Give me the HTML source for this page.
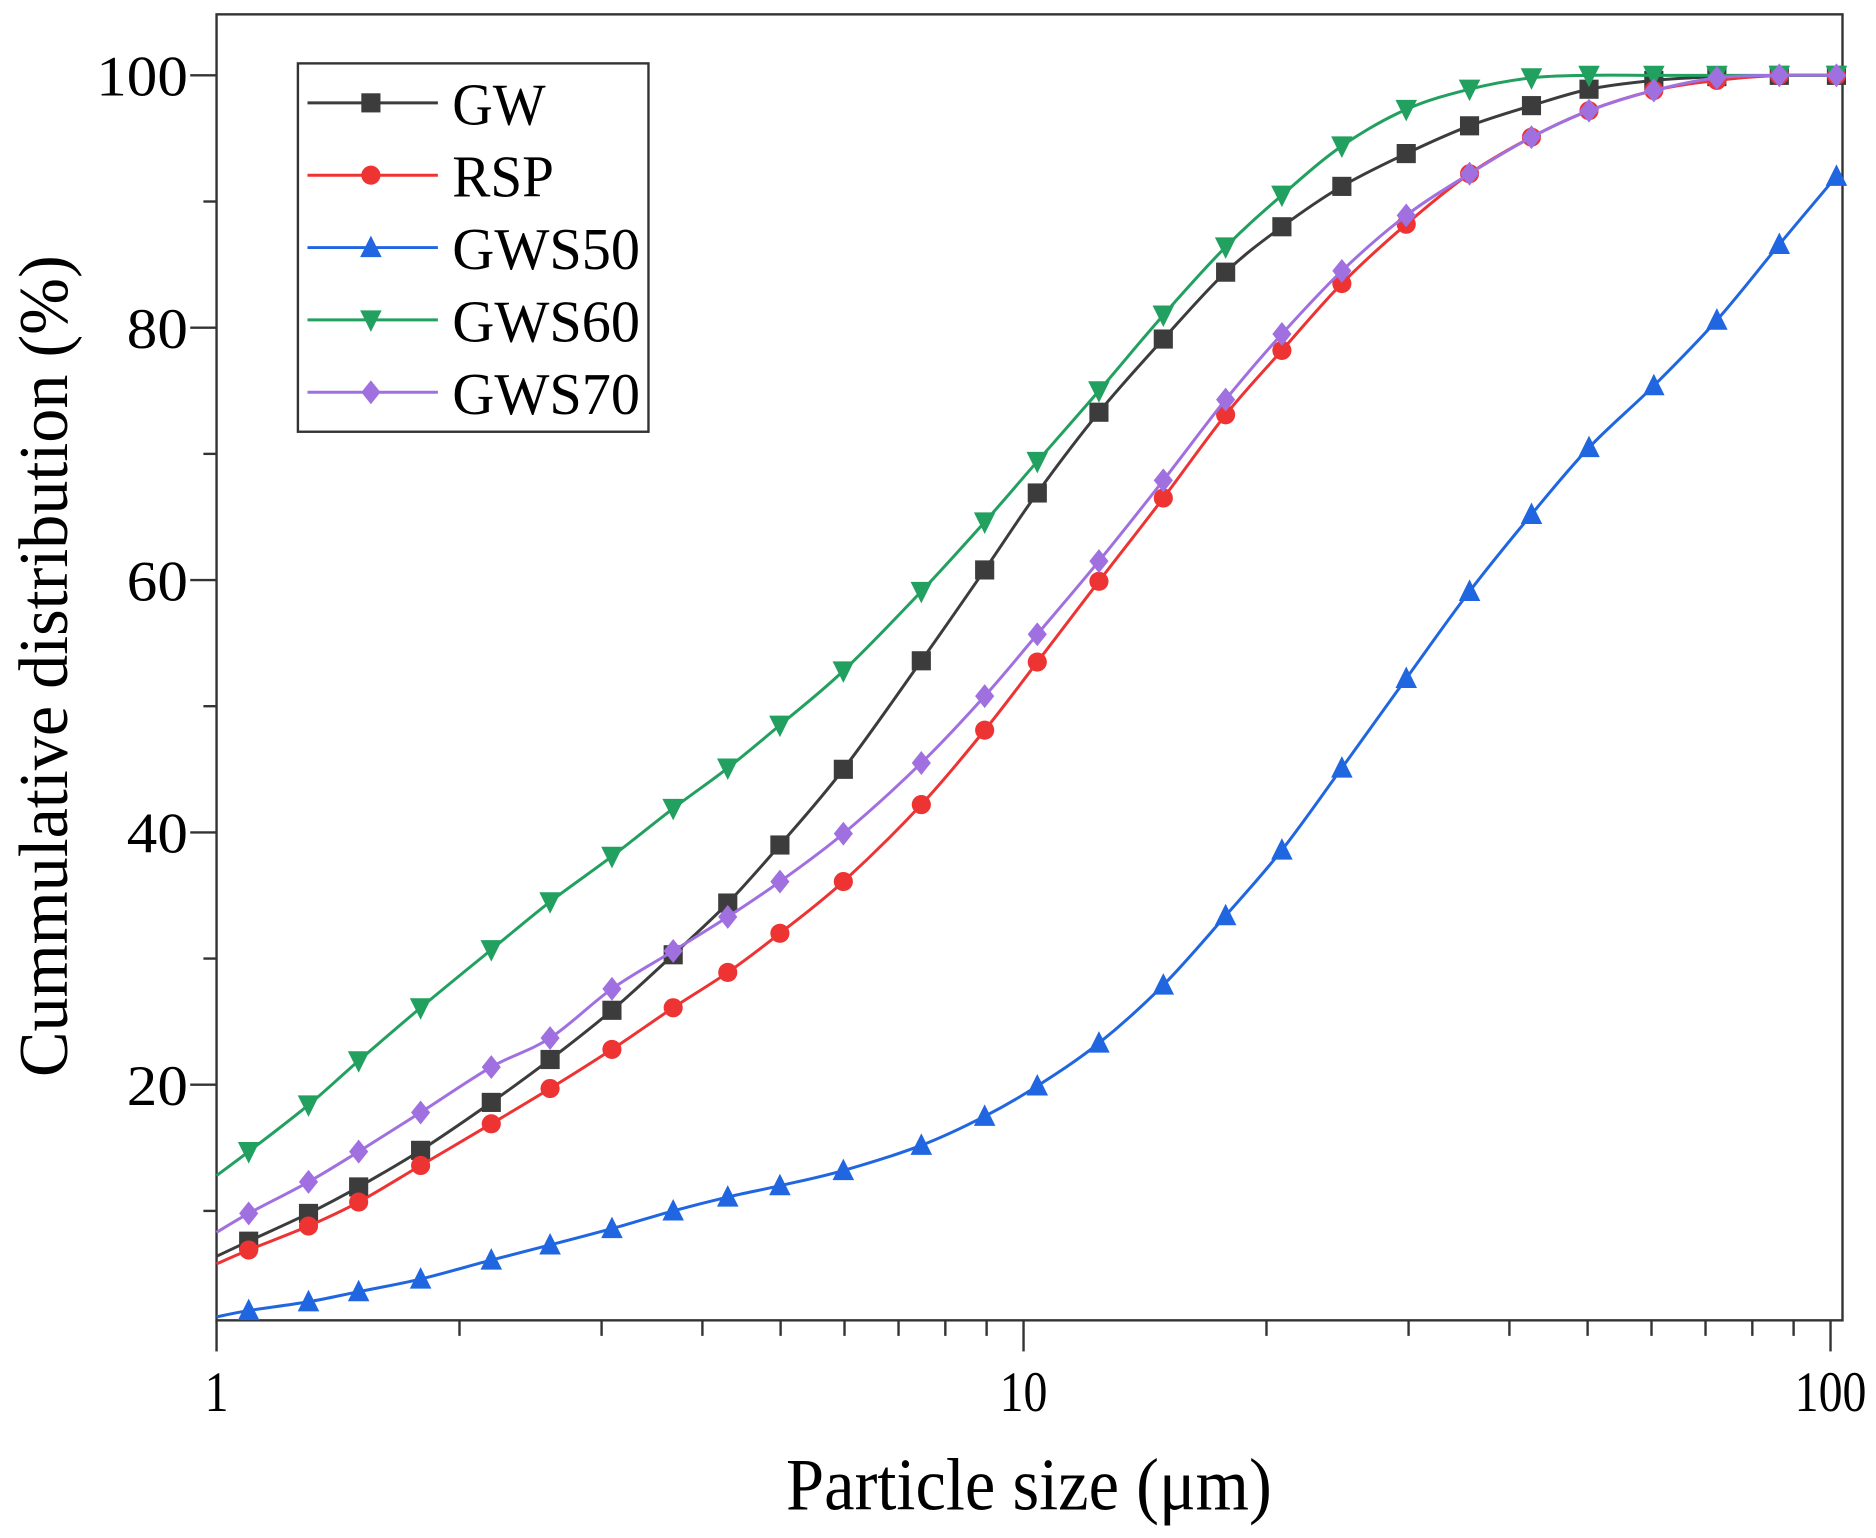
<!DOCTYPE html>
<html><head><meta charset="utf-8"><style>
html,body{margin:0;padding:0;background:#fff;}
svg{display:block;}
text{font-family:"Liberation Serif",serif;fill:#000;}
</style></head><body>
<svg id="chart" width="1876" height="1538" viewBox="0 0 1568 1286" preserveAspectRatio="none" xmlns="http://www.w3.org/2000/svg">
<g id="axes"></g>
<g id="series"></g>
<g id="legend"></g>
</svg>
<script>
const sizes=[1.0,1.096,1.30,1.50,1.79,2.19,2.59,3.09,3.68,4.30,4.99,5.98,7.47,8.95,10.4,12.4,14.9,17.8,20.9,24.8,29.8,35.7,42.6,50.2,60.4,72.3,86.4,101.7];
const gwValues=[6.4,7.6,9.8,11.9,14.8,18.6,22.0,25.9,30.3,34.4,39.0,45.0,53.6,60.8,66.9,73.3,79.1,84.4,88.0,91.2,93.8,96.0,97.6,98.9,99.6,99.9,100,100];
const rspValues=[5.8,6.9,8.8,10.7,13.6,16.9,19.7,22.8,26.1,28.9,32.0,36.1,42.2,48.1,53.5,59.9,66.5,73.1,78.2,83.5,88.2,92.2,95.1,97.2,98.8,99.6,100,100];
const gws50Values=[1.6,2.1,2.8,3.6,4.6,6.1,7.3,8.6,10.0,11.1,12.0,13.2,15.2,17.5,19.9,23.3,27.9,33.4,38.6,45.1,52.2,59.1,65.2,70.5,75.4,80.6,86.6,92.0];
const gws60Values=[12.8,14.7,18.4,21.9,26.1,30.7,34.5,38.1,41.9,45.1,48.5,52.8,59.1,64.6,69.4,75.0,81.0,86.4,90.5,94.4,97.3,98.9,99.8,100,100,100,100,100];
const gws70Values=[8.3,9.8,12.3,14.7,17.8,21.4,23.7,27.6,30.6,33.3,36.1,39.9,45.5,50.8,55.7,61.5,67.9,74.3,79.5,84.5,88.9,92.2,95.1,97.2,98.8,99.8,100,100];
const seriesNames=["GW","RSP","GWS50","GWS60","GWS70"];
const yTicks=[20,40,60,80,100];
const yMinorTicks=[10,30,50,70,90];
const xTicks=[1,10,100];
const xTickLabels=["1","10","100"];

const NS="http://www.w3.org/2000/svg";
const L=181,R=1540,T=12,B=1104;
function xs(v){return 181+Math.log10(v)*674.5;}
function ys(v){return 907-(v-20)*10.55;}
function mk(tag,attrs,parent){const e=document.createElementNS(NS,tag);for(const k in attrs)e.setAttribute(k,attrs[k]);parent.appendChild(e);return e;}
const axes=document.getElementById('axes');
const frame=mk('rect',{x:L,y:T,width:R-L,height:B-T,fill:'none',stroke:'#333','stroke-width':2},axes);


yTicks.forEach(v=>{
  const t=mk('line',{x1:L-22,x2:L,y1:ys(v),y2:ys(v),stroke:'#333','stroke-width':2},axes);
  
  
  const s=String(v);
  const lb=mk('text',{x:L-24,y:ys(v)+17,'text-anchor':'end','font-size':48,textLength:s.length*25.5,lengthAdjust:'spacingAndGlyphs'},axes);
  lb.textContent=s;
  
  
});
yMinorTicks.forEach(v=>{
  const t=mk('line',{x1:L-11,x2:L,y1:ys(v),y2:ys(v),stroke:'#333','stroke-width':2},axes);
  
  
});
xTicks.forEach((v,i)=>{
  const t=mk('line',{x1:xs(v),x2:xs(v),y1:B,y2:B+26,stroke:'#333','stroke-width':2},axes);
  
  
  const s=xTickLabels[i];
  const lb=mk('text',{x:xs(v),y:B+76,'text-anchor':'middle','font-size':48,textLength:s.length*20,lengthAdjust:'spacingAndGlyphs'},axes);
  lb.textContent=s;
  
  
});
[1,10].forEach(d=>{for(let m=2;m<=9;m++){const v=d*m;
  const t=mk('line',{x1:xs(v),x2:xs(v),y1:B,y2:B+13,stroke:'#333','stroke-width':2},axes);
  
  }});
const xt=mk('text',{x:860,y:1262,'text-anchor':'middle','font-size':62,textLength:406,lengthAdjust:'spacingAndGlyphs'},axes);
xt.textContent='Particle size (μm)';


const yt=mk('text',{x:0,y:0,'text-anchor':'middle','font-size':58,textLength:687,lengthAdjust:'spacingAndGlyphs',transform:'translate(56,557) rotate(-90)'},axes);
yt.textContent='Cummulative distribution (%)';



const colors=["#3c3c3c","#ee3333","#1f66e0","#22a060","#a070e0"];
const shapes=["square","circle","triangle","dtriangle","diamond"];
const allVals=[gwValues,rspValues,gws50Values,gws60Values,gws70Values];
function marker(shape,x,y,c,parent){
  const s=8;let e;
  if(shape==='square')e=mk('rect',{x:x-s,y:y-s,width:2*s,height:2*s,fill:c},parent);
  else if(shape==='circle')e=mk('circle',{cx:x,cy:y,r:s,fill:c},parent);
  else if(shape==='triangle')e=mk('polygon',{points:`${x},${y-s-2} ${x-s-1},${y+s} ${x+s+1},${y+s}`,fill:c},parent);
  else if(shape==='dtriangle')e=mk('polygon',{points:`${x},${y+s+2} ${x-s-1},${y-s} ${x+s+1},${y-s}`,fill:c},parent);
  else e=mk('polygon',{points:`${x},${y-s-2} ${x+s},${y} ${x},${y+s+2} ${x-s},${y}`,fill:c},parent);
  return e;
}
const sg=document.getElementById('series');
allVals.forEach((vals,si)=>{
  const g=mk('g',{},sg);
  
  
  const P=sizes.map((s,i)=>[xs(s),ys(vals[i])]);
  let d=`M${P[0][0]},${P[0][1]}`;
  for(let i=0;i<P.length-1;i++){
    const p0=P[Math.max(0,i-1)],p1=P[i],p2=P[i+1],p3=P[Math.min(P.length-1,i+2)];
    const c1=[p1[0]+(p2[0]-p0[0])/6,p1[1]+(p2[1]-p0[1])/6];
    const c2=[p2[0]-(p3[0]-p1[0])/6,p2[1]-(p3[1]-p1[1])/6];
    d+=` C${c1[0]},${c1[1]} ${c2[0]},${c2[1]} ${p2[0]},${p2[1]}`;
  }
  const path=mk('path',{d:d,fill:'none',stroke:colors[si],'stroke-width':2.5},g);
  
  
  for(let i=1;i<P.length;i++){
    const m=marker(shapes[si],P[i][0],P[i][1],colors[si],g);
    
    
  }
});
const lg=document.getElementById('legend');
const box=mk('rect',{x:249,y:53,width:293,height:308,fill:'#fff',stroke:'#333','stroke-width':2},lg);


const legendWidths=[78,85,157,157,157];
seriesNames.forEach((n,i)=>{
  const y=86+i*60.5;
  const g=mk('g',{},lg);
  
  
  mk('line',{x1:257,x2:366,y1:y,y2:y,stroke:colors[i],'stroke-width':2.5},g);
  marker(shapes[i],310,y,colors[i],g);
  const t=mk('text',{x:378,y:y+18,'font-size':50,textLength:legendWidths[i],lengthAdjust:'spacingAndGlyphs'},g);
  t.textContent=n;
});
</script>
</body></html>
